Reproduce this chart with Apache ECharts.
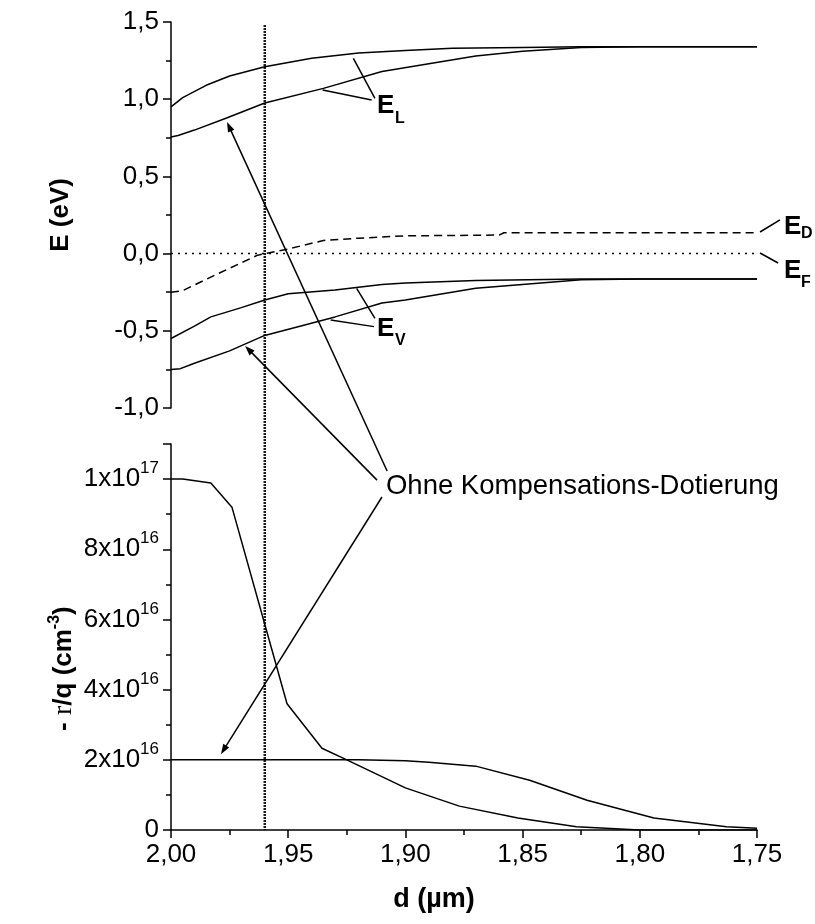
<!DOCTYPE html>
<html><head><meta charset="utf-8">
<script src="https://cdn.jsdelivr.net/npm/echarts@6/dist/echarts.min.js"></script>
<style>html,body{margin:0;padding:0;background:#fff}#c{width:815px;height:924px}</style>
</head><body><div id="c"></div>
<script>
// ---------- data (d in µm, E in eV, rho/q in cm^-3) ----------
const xTicks = [2.00, 1.95, 1.90, 1.85, 1.80, 1.75];

const d_ELupper = [2.00, 1.995, 1.985, 1.975, 1.96, 1.94, 1.92, 1.90, 1.88, 1.85, 1.825, 1.75];
const E_ELupper = [0.95, 1.01, 1.09, 1.15, 1.21, 1.265, 1.30, 1.315, 1.33, 1.335, 1.34, 1.34];

const d_ELlower = [2.00, 1.997, 1.99, 1.976, 1.96, 1.935, 1.91, 1.87, 1.85, 1.825, 1.80, 1.75];
const E_ELlower = [0.755, 0.765, 0.80, 0.88, 0.975, 1.07, 1.18, 1.28, 1.31, 1.335, 1.34, 1.34];

const d_ED = [2.00, 1.995, 1.98, 1.963, 1.95, 1.935, 1.92, 1.90, 1.86, 1.858, 1.75];
const E_ED = [-0.25, -0.24, -0.13, -0.01, 0.03, 0.085, 0.10, 0.115, 0.12, 0.135, 0.135];

const d_EF = [2.00, 1.75];
const E_EF = [0, 0];

const d_EVupper = [2.00, 1.99, 1.983, 1.97, 1.96, 1.95, 1.93, 1.91, 1.90, 1.87, 1.825, 1.75];
const E_EVupper = [-0.55, -0.47, -0.41, -0.35, -0.30, -0.26, -0.235, -0.20, -0.19, -0.175, -0.165, -0.165];

const d_EVlower = [2.00, 1.996, 1.99, 1.975, 1.96, 1.93, 1.91, 1.90, 1.87, 1.825, 1.80, 1.75];
const E_EVlower = [-0.75, -0.745, -0.71, -0.63, -0.53, -0.41, -0.32, -0.30, -0.225, -0.17, -0.165, -0.165];

const d_rhoA = [2.00, 1.995, 1.983, 1.974, 1.9505, 1.9356, 1.925, 1.90, 1.877, 1.852, 1.827, 1.80, 1.75];
const rhoA   = [10.0e16, 10.0e16, 9.89e16, 9.2e16, 3.6e16, 2.33e16, 2.0e16, 1.2e16, 0.68e16, 0.34e16, 0.09e16, 0, 0];

const d_rhoB = [2.00, 1.92, 1.90, 1.89, 1.87, 1.847, 1.8225, 1.794, 1.763, 1.75];
const rhoB   = [2.0e16, 2.0e16, 1.97e16, 1.93e16, 1.82e16, 1.42e16, 0.85e16, 0.34e16, 0.09e16, 0.05e16];

const dMarker = 1.96;          // vertical reference line
const dMarkerTopE = 1.48;

// ---------- annotation anchors (data coordinates) ----------
const arrowsTopHead = [ // [tail(bottom panel d,rho), head(top panel d,E)]
  [[1.9078, 10.23e16], [1.9761, 0.852]],
  [[1.9121, 9.97e16], [1.9684, -0.598]]
];
const arrowsBottomHead = [
  [[1.910, 9.49e16], [1.9787, 2.16e16]]
];
const leaders = [ // top panel
  [[1.9130, 1.006], [1.9222, 1.265]],
  [[1.9144, 0.995], [1.9353, 1.060]],
  [[1.9130, -0.419], [1.9208, -0.225]],
  [[1.9134, -0.473], [1.9319, -0.430]],
  [[1.7487, 0.140], [1.7402, 0.218]],
  [[1.7487, 0.004], [1.7410, -0.061]]
];
const bandLabels = [ // [main letter anchor (d,E), subscript anchor (d,E), subscript]
  [[1.9121, 0.957], [1.9044, 0.872], 'L'],
  [[1.9121, -0.485], [1.9044, -0.565], 'V'],
  [[1.7385, 0.176], [1.7312, 0.127], 'D'],
  [[1.7385, -0.109], [1.7312, -0.190], 'F']
];
const calloutText = 'Ohne Kompensations-Dotierung';
const calloutAnchor = [1.9083, 9.80e16];

// ---------- chart ----------
const FONT = '"Liberation Sans", Arial, sans-serif';
const pair = (xs, ys) => xs.map((x, i) => [x, ys[i]]);
const chart = echarts.init(document.getElementById('c'), null, {renderer: 'canvas'});

const lineS = (name, xi, xs, ys, extra) => Object.assign({
  name, type: 'line', xAxisIndex: xi, yAxisIndex: xi, data: pair(xs, ys),
  showSymbol: false, symbol: 'none', silent: true, animation: false,
  lineStyle: {color: '#000', width: 1.5}
}, extra || {});

const xAxisBase = {
  type: 'value', min: 1.75, max: 2.00, interval: 0.05, inverse: true,
  splitLine: {show: false}
};

chart.setOption({
  animation: false,
  textStyle: {fontFamily: FONT},
  grid: [
    {left: 171, top: 22, width: 586, height: 386, outerBoundsMode: 'none', containLabel: false},
    {left: 171, top: 444, width: 586, height: 386, outerBoundsMode: 'none', containLabel: false}
  ],
  xAxis: [
    Object.assign({}, xAxisBase, {gridIndex: 0, show: false}),
    Object.assign({}, xAxisBase, {
      gridIndex: 1, position: 'bottom',
      name: 'd (µm)', nameLocation: 'middle', nameGap: 56,
      nameTextStyle: {fontSize: 27, fontWeight: 'bold', color: '#000', fontFamily: FONT, padding: [0, 60, 0, 0]},
      axisLine: {show: true, onZero: false, lineStyle: {color: '#000', width: 1.5}},
      axisTick: {show: true, length: 8, inside: false, lineStyle: {color: '#000', width: 1.5}},
      minorTick: {show: true, splitNumber: 2, length: 5, lineStyle: {color: '#000', width: 1.5}},
      axisLabel: {fontSize: 26, color: '#000', margin: 12, fontFamily: FONT,
        formatter: v => v.toFixed(2).replace('.', ',')}
    })
  ],
  yAxis: [
    {
      gridIndex: 0, type: 'value', min: -1, max: 1.5, interval: 0.5,
      splitLine: {show: false},
      axisLine: {show: true, onZero: false, lineStyle: {color: '#000', width: 1.5}},
      axisTick: {show: true, length: 8, inside: false, lineStyle: {color: '#000', width: 1.5}},
      minorTick: {show: true, splitNumber: 2, length: 5, lineStyle: {color: '#000', width: 1.5}},
      axisLabel: {fontSize: 26, color: '#000', margin: 12, fontFamily: FONT,
        formatter: v => v.toFixed(1).replace('.', ',')}
    },
    {
      gridIndex: 1, type: 'value', min: 0, max: 11e16, interval: 2e16,
      splitLine: {show: false},
      axisLine: {show: true, onZero: false, lineStyle: {color: '#000', width: 1.5}},
      axisTick: {show: true, length: 8, inside: false, lineStyle: {color: '#000', width: 1.5}},
      minorTick: {show: true, splitNumber: 2, length: 5, lineStyle: {color: '#000', width: 1.5}},
      axisLabel: {
        margin: 12, color: '#000', fontFamily: FONT, showMaxLabel: false,
        formatter: v => {
          if (v === 0) return '{n|0}';
          const k = Math.round(v / 1e16);
          if (k % 2 !== 0) return '';
          const e = Math.floor(Math.log10(v) + 1e-9);
          const m = Math.round(v / Math.pow(10, e));
          return '{n|' + m + 'x10}{s|' + e + '}';
        },
        rich: {
          n: {fontSize: 26, lineHeight: 38, color: '#000', fontFamily: FONT},
          s: {fontSize: 17, lineHeight: 17, verticalAlign: 'top', color: '#000', fontFamily: FONT}
        }
      }
    }
  ],
  series: [
    lineS('EL upper', 0, d_ELupper, E_ELupper),
    lineS('EL lower', 0, d_ELlower, E_ELlower),
    lineS('ED', 0, d_ED, E_ED, {lineStyle: {color: '#000', width: 1.5, type: [8, 5]}}),
    lineS('EF', 0, d_EF, E_EF, {lineStyle: {color: '#000', width: 1.5, type: [2, 5]}}),
    lineS('EV upper', 0, d_EVupper, E_EVupper),
    lineS('EV lower', 0, d_EVlower, E_EVlower),
    lineS('rho A', 1, d_rhoA, rhoA),
    lineS('rho B', 1, d_rhoB, rhoB)
  ]
});

const T = (p) => chart.convertToPixel({seriesIndex: 0}, p);
const B = (p) => chart.convertToPixel({seriesIndex: 6}, p);

function arrow(t, h) {
  const dx = h[0] - t[0], dy = h[1] - t[1], L = Math.hypot(dx, dy);
  const ux = dx / L, uy = dy / L, len = 10, w = 3.5;
  const bx = h[0] - ux * len, by = h[1] - uy * len;
  return [
    {type: 'line', silent: true, shape: {x1: t[0], y1: t[1], x2: bx + ux * 2, y2: by + uy * 2},
     style: {stroke: '#000', lineWidth: 1.5}},
    {type: 'polygon', silent: true, shape: {points: [[h[0], h[1]], [bx - uy * w, by + ux * w], [bx + uy * w, by - ux * w]]},
     style: {fill: '#000'}}
  ];
}
const seg = (a, b, w) => ({type: 'line', silent: true,
  shape: {x1: a[0], y1: a[1], x2: b[0], y2: b[1]}, style: {stroke: '#000', lineWidth: w || 1.5}});

const g = [];
// vertical reference line spanning both panels
const vt = T([dMarker, dMarkerTopE]), vb = B([dMarker, 0]);
g.push({type: 'line', silent: true, shape: {x1: vt[0], y1: vt[1], x2: vb[0], y2: vb[1]},
  style: {stroke: '#1a1a1a', lineWidth: 2.5, lineDash: [2, 1]}});
arrowsTopHead.forEach(a => g.push(...arrow(B(a[0]), T(a[1]))));
arrowsBottomHead.forEach(a => g.push(...arrow(B(a[0]), B(a[1]))));
leaders.forEach(l => g.push(seg(T(l[0]), T(l[1]))));
bandLabels.forEach(b => {
  const p = T(b[0]), q = T(b[1]);
  g.push({type: 'text', silent: true, x: p[0], y: p[1],
    style: {text: 'E', fill: '#000', font: 'bold 26px ' + FONT, align: 'left', verticalAlign: 'middle'}});
  g.push({type: 'text', silent: true, x: q[0], y: q[1],
    style: {text: b[2], fill: '#000', font: 'bold 16px ' + FONT, align: 'left', verticalAlign: 'middle'}});
});
const cp = B(calloutAnchor);
g.push({type: 'text', silent: true, x: cp[0], y: cp[1],
  style: {text: calloutText, fill: '#000', font: '27.5px ' + FONT, align: 'left', verticalAlign: 'middle'}});
// y-axis titles
const topMid = T([2.00, 0.25]);
g.push({type: 'text', silent: true, x: 61, y: topMid[1], rotation: Math.PI / 2,
  style: {text: 'E (eV)', fill: '#000', font: 'bold 26px ' + FONT, align: 'center', verticalAlign: 'middle'}});
const botMid = B([2.00, 4.6e16]);
g.push({type: 'text', silent: true, x: 64, y: botMid[1], rotation: Math.PI / 2,
  style: {
    text: '{b|- }{r|r}{b|/q (cm}{s|-3}{b|)}', align: 'center', verticalAlign: 'middle',
    rich: {
      b: {font: 'bold 26px ' + FONT, fill: '#000', lineHeight: 34},
      r: {font: '28px "Liberation Serif", "Times New Roman", serif', fill: '#000', lineHeight: 34},
      s: {font: 'bold 16px ' + FONT, fill: '#000', lineHeight: 16, verticalAlign: 'top'}
    }
  }});
chart.setOption({graphic: g});
</script>
</body></html>
